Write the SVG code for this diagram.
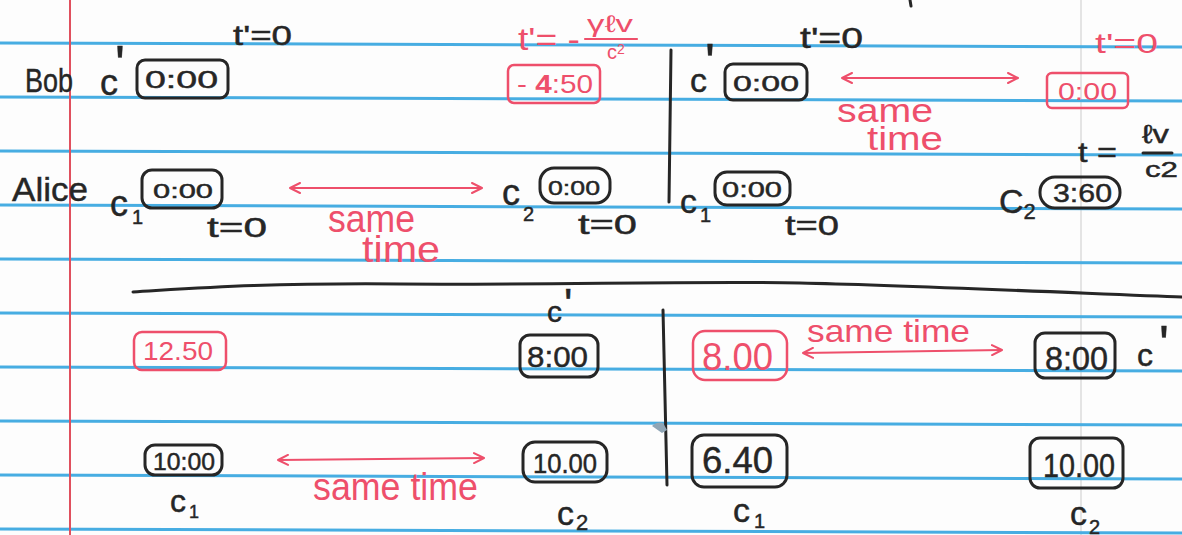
<svg xmlns="http://www.w3.org/2000/svg" width="1182" height="535" viewBox="0 0 1182 535">
  <style>
    text { font-family: "Liberation Sans", "DejaVu Sans", sans-serif; }
    .ink { fill: #262626; stroke: #262626; stroke-width: 0.45; }
    .red { fill: #ee4f6b; }
    .box { fill: none; stroke: #262626; stroke-width: 3; }
    .rbox { fill: none; stroke: #ee4f6b; stroke-width: 2.5; }
    .rule { stroke: #47ade2; stroke-width: 3; }
    .pen { fill: none; stroke: #262626; stroke-width: 3; stroke-linecap: round; }
    .rpen { fill: none; stroke: #ee4f6b; stroke-width: 2.2; stroke-linecap: round; }
    .arrow { fill: none; stroke: #ee4f6b; stroke-width: 2.2; marker-start: url(#chev); marker-end: url(#chev); }
  </style>
  <defs>
    <marker id="chev" viewBox="0 0 12 12" refX="11" refY="6" markerWidth="12" markerHeight="12" markerUnits="userSpaceOnUse" orient="auto-start-reverse">
      <path d="M1,1 L11,6 L1,11" fill="none" stroke="#ee4f6b" stroke-width="2" stroke-linecap="round" stroke-linejoin="round"/>
    </marker>
  </defs>

  <!-- ruled notebook paper -->
  <g id="paper">
    <rect x="0" y="0" width="1182" height="535" fill="#fdfdfd"/>
    <line x1="1081" y1="0" x2="1081" y2="535" stroke="#e4e4e4" stroke-width="2"/>
    <line class="rule" x1="0" y1="43" x2="1182" y2="47"/>
    <line class="rule" x1="0" y1="97" x2="1182" y2="101"/>
    <line class="rule" x1="0" y1="151" x2="1182" y2="155"/>
    <line class="rule" x1="0" y1="205" x2="1182" y2="209"/>
    <line class="rule" x1="0" y1="259" x2="1182" y2="263"/>
    <line class="rule" x1="0" y1="313" x2="1182" y2="317"/>
    <line class="rule" x1="0" y1="367" x2="1182" y2="371"/>
    <line class="rule" x1="0" y1="421" x2="1182" y2="425"/>
    <line class="rule" x1="0" y1="475" x2="1182" y2="479"/>
    <line class="rule" x1="0" y1="529" x2="1182" y2="533"/>
    <line x1="70" y1="0" x2="70" y2="535" stroke="#e0505e" stroke-width="2"/>
  </g>

  <!-- dividers -->
  <g id="dividers">
    <path class="pen" d="M671,50 L669,202"/>
    <path class="pen" d="M133,292 C200,288 260,283 400,284 S700,281 800,283 S1100,294 1182,297"/>
    <path class="pen" d="M663,310 L667,485"/>
    <path d="M652,426 Q657,421 663,423 L667,430 L662,433 Z" fill="#8fa5b5"/>
    <path class="pen" d="M910,0 L911,6" stroke-width="2"/>
  </g>

  <!-- same-time connectors -->
  <g id="connectors">
    <path class="arrow" d="M290,188 L482,188"/>
    <path class="arrow" d="M842,78 L1018,78"/>
    <path class="arrow" d="M278,460 L484,458"/>
    <path class="arrow" d="M803,353 L1002,350"/>
  </g>

  <!-- top left -->
  <g id="bob-label"><text class="ink" x="25" y="92" font-size="34" textLength="48" lengthAdjust="spacingAndGlyphs">Bob</text></g>
  <g id="alice-label"><text class="ink" x="12" y="201" font-size="34" textLength="76" lengthAdjust="spacingAndGlyphs">Alice</text></g>

  <g id="bob-clock-a">
    <text class="ink" x="100" y="95" font-size="36">c<tspan dx="-3" dy="-13" font-size="52">'</tspan></text>
    <rect class="box" x="137" y="60" width="91" height="38" rx="8"/>
    <text class="ink" x="145" y="88" font-size="24" textLength="73" lengthAdjust="spacingAndGlyphs">0:00</text>
    <text class="ink" x="233" y="45" font-size="28" textLength="59" lengthAdjust="spacingAndGlyphs">t'=0</text>
  </g>

  <g id="alice-c1-a">
    <text class="ink" x="110" y="216" font-size="36">c<tspan dx="4" dy="8" font-size="20">1</tspan></text>
    <rect class="box" x="142" y="170" width="80" height="38" rx="10"/>
    <text class="ink" x="153" y="198" font-size="21" textLength="60" lengthAdjust="spacingAndGlyphs">0:00</text>
    <text class="ink" x="207" y="237" font-size="28" textLength="60" lengthAdjust="spacingAndGlyphs">t=0</text>
  </g>

  <g id="same-time-a">
    <text class="red" x="328" y="232" font-size="38" textLength="87" lengthAdjust="spacingAndGlyphs">same</text>
    <text class="red" x="362" y="262" font-size="36" textLength="78" lengthAdjust="spacingAndGlyphs">time</text>
  </g>

  <g id="alice-c2-a">
    <text class="ink" x="502" y="205" font-size="36">c<tspan dx="3" dy="16" font-size="20">2</tspan></text>
    <rect class="box" x="540" y="168" width="70" height="35" rx="14"/>
    <text class="ink" x="548" y="195" font-size="21" textLength="52" lengthAdjust="spacingAndGlyphs">0:00</text>
    <text class="ink" x="578" y="234" font-size="28" textLength="59" lengthAdjust="spacingAndGlyphs">t=0</text>
  </g>

  <g id="bob-far-a">
    <text class="red" x="518" y="50" font-size="32" textLength="62" lengthAdjust="spacingAndGlyphs">t'= -</text>
    <text class="red" x="587" y="32" font-size="24" textLength="46" lengthAdjust="spacingAndGlyphs">γℓv</text>
    <path class="rpen" d="M585,39 L637,39"/>
    <text class="red" x="607" y="59" font-size="20">c<tspan font-size="14" dy="-5">2</tspan></text>
    <rect class="rbox" x="508" y="65" width="92" height="38" rx="6"/>
    <text class="red" x="517" y="93" font-size="25" textLength="76" lengthAdjust="spacingAndGlyphs">- <tspan font-weight="bold">4</tspan>:50</text>
  </g>

  <!-- top right -->
  <g id="bob-clock-b">
    <text class="ink" x="690" y="92" font-size="34">c<tspan dx="-2" dy="-12" font-size="52">'</tspan></text>
    <rect class="box" x="725" y="64" width="82" height="36" rx="8"/>
    <text class="ink" x="733" y="91" font-size="22" textLength="66" lengthAdjust="spacingAndGlyphs">0:00</text>
    <text class="ink" x="800" y="48" font-size="30" textLength="63" lengthAdjust="spacingAndGlyphs">t'=0</text>
  </g>

  <g id="same-time-b">
    <text class="red" x="837" y="122" font-size="34" textLength="96" lengthAdjust="spacingAndGlyphs">same</text>
    <text class="red" x="867" y="150" font-size="34" textLength="76" lengthAdjust="spacingAndGlyphs">time</text>
  </g>

  <g id="bob-far-b">
    <text class="red" x="1095" y="53" font-size="28" textLength="63" lengthAdjust="spacingAndGlyphs">t'=0</text>
    <rect class="rbox" x="1047" y="73" width="81" height="35" rx="5"/>
    <text class="red" x="1058" y="100" font-size="24" textLength="59" lengthAdjust="spacingAndGlyphs">0:00</text>
  </g>

  <g id="alice-c1-b">
    <text class="ink" x="680" y="213" font-size="34">c<tspan dx="3" dy="9" font-size="20">1</tspan></text>
    <rect class="box" x="715" y="172" width="75" height="33" rx="12"/>
    <text class="ink" x="722" y="197" font-size="22" textLength="60" lengthAdjust="spacingAndGlyphs">0:00</text>
    <text class="ink" x="785" y="235" font-size="28" textLength="54" lengthAdjust="spacingAndGlyphs">t=0</text>
  </g>

  <g id="alice-c2-b">
    <text class="ink" x="1078" y="162" font-size="28" textLength="39" lengthAdjust="spacingAndGlyphs">t =</text>
    <text class="ink" x="1142" y="143" font-size="26" textLength="27" lengthAdjust="spacingAndGlyphs">ℓv</text>
    <path class="pen" d="M1143,153 L1172,153" stroke-width="2.5"/>
    <text class="ink" x="1145" y="177" font-size="22" textLength="33" lengthAdjust="spacingAndGlyphs">c2</text>
    <text class="ink" x="999" y="213" font-size="34">C<tspan dy="6" font-size="22">2</tspan></text>
    <rect class="box" x="1040" y="177" width="80" height="31" rx="15"/>
    <text class="ink" x="1053" y="202" font-size="26" textLength="59" lengthAdjust="spacingAndGlyphs">3:60</text>
  </g>

  <!-- bottom left -->
  <g id="bob-clock-c">
    <text class="ink" x="547" y="322" font-size="30">c<tspan dx="2" dy="-2" font-size="44">'</tspan></text>
    <rect class="box" x="520" y="335" width="78" height="42" rx="10"/>
    <text class="ink" x="527" y="367" font-size="29" textLength="61" lengthAdjust="spacingAndGlyphs">8:00</text>
  </g>

  <g id="red-clock-c">
    <rect class="rbox" x="134" y="332" width="92" height="38" rx="8"/>
    <text class="red" x="143" y="360" font-size="25" textLength="70" lengthAdjust="spacingAndGlyphs">12.50</text>
  </g>

  <g id="alice-c1-c">
    <rect class="box" x="145" y="445" width="77" height="30" rx="10"/>
    <text class="ink" x="153" y="470" font-size="24" textLength="62" lengthAdjust="spacingAndGlyphs">10:00</text>
    <text class="ink" x="170" y="512" font-size="32">c<tspan dx="3" dy="6" font-size="18">1</tspan></text>
  </g>

  <g id="same-time-c">
    <text class="red" x="313" y="500" font-size="38" textLength="165" lengthAdjust="spacingAndGlyphs">same time</text>
  </g>

  <g id="alice-c2-c">
    <rect class="box" x="523" y="442" width="84" height="40" rx="12"/>
    <text class="ink" x="533" y="473" font-size="27" textLength="64" lengthAdjust="spacingAndGlyphs">10.00</text>
    <text class="ink" x="557" y="525" font-size="34">c<tspan dx="2" dy="5" font-size="22">2</tspan></text>
  </g>

  <!-- bottom right -->
  <g id="red-clock-d">
    <rect class="rbox" x="693" y="331" width="94" height="49" rx="12"/>
    <text class="red" x="702" y="370" font-size="38" textLength="71" lengthAdjust="spacingAndGlyphs">8.00</text>
  </g>

  <g id="same-time-d">
    <text class="red" x="807" y="342" font-size="32" textLength="163" lengthAdjust="spacingAndGlyphs">same time</text>
  </g>

  <g id="bob-clock-d">
    <rect class="box" x="1035" y="333" width="80" height="45" rx="10"/>
    <text class="ink" x="1045" y="370" font-size="33" textLength="63" lengthAdjust="spacingAndGlyphs">8:00</text>
    <text class="ink" x="1137" y="366" font-size="32">c<tspan dx="6" dy="-4" font-size="52">'</tspan></text>
  </g>

  <g id="alice-c1-d">
    <rect class="box" x="692" y="435" width="95" height="52" rx="12"/>
    <text class="ink" x="702" y="473" font-size="36" textLength="71" lengthAdjust="spacingAndGlyphs">6.40</text>
    <text class="ink" x="733" y="522" font-size="34">c<tspan dx="4" dy="6" font-size="20">1</tspan></text>
  </g>

  <g id="alice-c2-d">
    <rect class="box" x="1030" y="438" width="93" height="50" rx="10"/>
    <text class="ink" x="1043" y="477" font-size="33" textLength="72" lengthAdjust="spacingAndGlyphs">10.00</text>
    <text class="ink" x="1070" y="525" font-size="34">c<tspan dx="2" dy="9" font-size="20">2</tspan></text>
  </g>
</svg>
